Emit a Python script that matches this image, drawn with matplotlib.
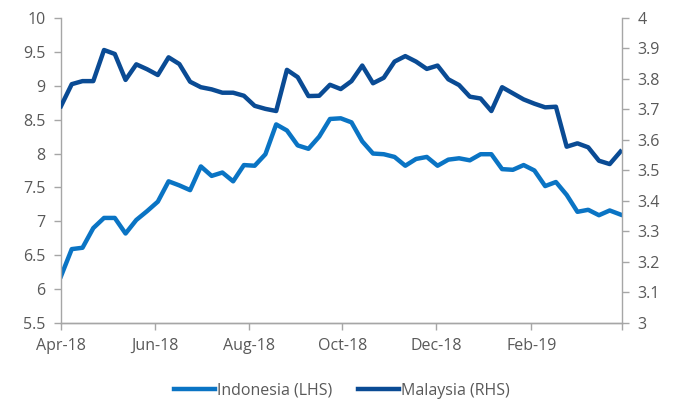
import matplotlib
matplotlib.use("Agg")
import matplotlib.pyplot as plt
import pandas as pd

dates = pd.date_range("2018-04-01", periods=53, freq="7D")

indonesia = [6.19, 6.59, 6.61, 6.90, 7.05, 7.05, 6.82, 7.02, 7.15, 7.29,
             7.59, 7.53, 7.46, 7.81, 7.67, 7.72, 7.59, 7.83, 7.82, 7.99,
             8.43, 8.34, 8.12, 8.07, 8.25, 8.51, 8.52, 8.46, 8.18, 8.00,
             7.99, 7.95, 7.82, 7.92, 7.95, 7.82, 7.91, 7.93, 7.90, 7.99,
             7.99, 7.77, 7.76, 7.83, 7.75, 7.52, 7.58, 7.39, 7.14, 7.17,
             7.09, 7.16, 7.10]

malaysia = [3.711, 3.783, 3.793, 3.793, 3.895, 3.882, 3.797, 3.848, 3.832, 3.813,
            3.871, 3.849, 3.791, 3.773, 3.766, 3.755, 3.755, 3.745, 3.712, 3.702,
            3.695, 3.830, 3.806, 3.744, 3.745, 3.781, 3.767, 3.793, 3.844, 3.786,
            3.804, 3.857, 3.875, 3.857, 3.833, 3.844, 3.799, 3.780, 3.742, 3.736,
            3.695, 3.773, 3.753, 3.733, 3.719, 3.707, 3.709, 3.578, 3.589, 3.576,
            3.532, 3.521, 3.562]

left_ticks = [5.5, 6, 6.5, 7, 7.5, 8, 8.5, 9, 9.5, 10]
left_labels = ["5.5", "6", "6.5", "7", "7.5", "8", "8.5", "9", "9.5", "10"]
right_ticks = [3, 3.1, 3.2, 3.3, 3.4, 3.5, 3.6, 3.7, 3.8, 3.9, 4]
right_labels = ["3", "3.1", "3.2", "3.3", "3.4", "3.5", "3.6", "3.7", "3.8", "3.9", "4"]
x_tick_dates = pd.to_datetime(["2018-04-01", "2018-06-01", "2018-08-01",
                               "2018-10-01", "2018-12-01", "2019-02-01", "2019-04-01"])
x_tick_labels = ["Apr-18", "Jun-18", "Aug-18", "Oct-18", "Dec-18", "Feb-19", ""]

plt.rcParams["font.family"] = ["Open Sans", "DejaVu Sans"]
txt = "#595959"
axc = "#a6a6a6"
c_ind = "#0a74c4"
c_mal = "#0a4b94"

fig = plt.figure(figsize=(6.83, 4.05), dpi=100)
ax = fig.add_axes([0.0893, 0.2025, 0.8214, 0.7531])
ax2 = ax.twinx()

l1, = ax.plot(dates, indonesia, color=c_ind, lw=3.2, solid_joinstyle="round",
              label="Indonesia (LHS)")
l2, = ax2.plot(dates, malaysia, color=c_mal, lw=3.2, solid_joinstyle="round",
               label="Malaysia (RHS)")

ax.set_xlim(pd.Timestamp("2018-04-01"), pd.Timestamp("2019-04-01"))
ax.set_ylim(5.5, 10)
ax2.set_ylim(3, 4)
ax.set_yticks(left_ticks)
ax.set_yticklabels(left_labels)
ax2.set_yticks(right_ticks)
ax2.set_yticklabels(right_labels)
ax.set_xticks(x_tick_dates)
ax.set_xticklabels(x_tick_labels)

for a in (ax, ax2):
    for s in a.spines.values():
        s.set_color(axc)
        s.set_linewidth(1.0)
    a.spines["top"].set_visible(False)
    a.tick_params(colors=axc, labelcolor=txt, labelsize=11.5, length=5, width=1)
ax.spines["right"].set_visible(False)
ax2.spines["left"].set_visible(False)
ax.tick_params(axis="x", pad=6)
ax.tick_params(axis="y", pad=6)
ax2.tick_params(axis="y", pad=6)

fig.legend(handles=[l1, l2], loc="center", bbox_to_anchor=(0.5, 0.035),
           ncol=2, frameon=False, fontsize=11.5, labelcolor=txt,
           handlelength=2.6, handletextpad=0.1, columnspacing=1.6)

fig.savefig("out.png", dpi=100)
